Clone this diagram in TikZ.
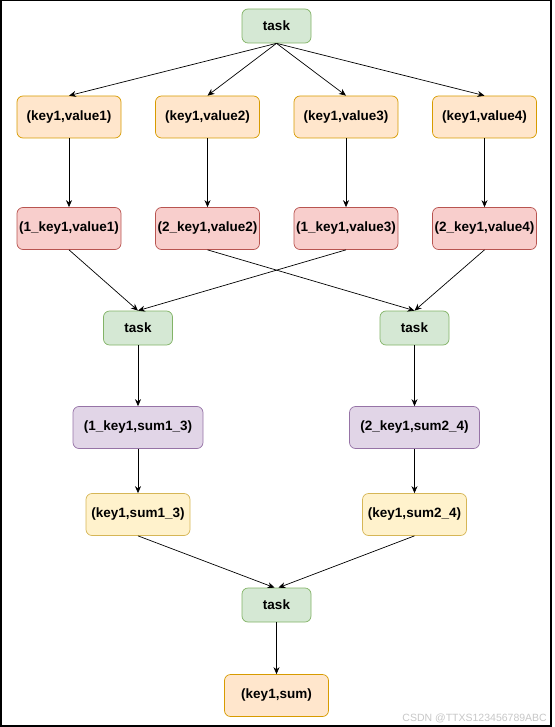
\documentclass[tikz,border=0pt]{standalone}
\usepackage{fontspec}
\setmainfont{Liberation Sans}
\usepackage{tikz}
\usetikzlibrary{arrows.meta}

\definecolor{taskfill}{HTML}{D5E8D4}
\definecolor{taskline}{HTML}{82B366}
\definecolor{pairfill}{HTML}{FFE6CC}
\definecolor{pairline}{HTML}{D79B00}
\definecolor{tagfill}{HTML}{F8CECC}
\definecolor{tagline}{HTML}{B85450}
\definecolor{sumfill}{HTML}{E1D5E7}
\definecolor{sumline}{HTML}{9673A6}
\definecolor{resfill}{HTML}{FFF2CC}
\definecolor{resline}{HTML}{D6B656}

\tikzset{
	box/.style={rounded corners=6pt, line width=0.7pt, inner sep=0pt,
		minimum height=42pt, font=\fontsize{13.5}{16}\selectfont\bfseries},
	taskbox/.style={box, draw=taskline, fill=taskfill, minimum width=69pt, minimum height=34pt},
	pairbox/.style={box, draw=pairline, fill=pairfill, minimum width=104pt},
	tagbox/.style={box, draw=tagline, fill=tagfill, minimum width=104pt},
	sumbox/.style={box, draw=sumline, fill=sumfill, minimum width=130pt},
	resbox/.style={box, draw=resline, fill=resfill, minimum width=104pt},
	link/.style={-{Stealth[length=7pt,width=6pt]}, line width=0.7pt},
}

\begin{document}
\begin{tikzpicture}[x=1pt, y=-1pt]

% frame %{{{2

	\useasboundingbox (0,0) rectangle (554,727);
	\draw[line width=1.5pt] (0.75,0.75) rectangle (551,726);

% top task %{{{2

	\node[taskbox] (T) at (276.5,26) {task};

% map rows %{{{2

	\node[pairbox] (P1) at (69,117) {(key1,value1)};
	\node[pairbox] (P2) at (207.5,117) {(key1,value2)};
	\node[pairbox] (P3) at (346,117) {(key1,value3)};
	\node[pairbox] (P4) at (484.5,117) {(key1,value4)};

	\node[tagbox] (Q1) at (69,228.5) {(1\_key1,value1)};
	\node[tagbox] (Q2) at (207.5,228.5) {(2\_key1,value2)};
	\node[tagbox] (Q3) at (346,228.5) {(1\_key1,value3)};
	\node[tagbox] (Q4) at (484.5,228.5) {(2\_key1,value4)};

% reduce tasks %{{{2

	\node[taskbox] (TA) at (138,328) {task};
	\node[taskbox] (TB) at (414.5,328) {task};

	\node[sumbox] (SA) at (138,427.5) {(1\_key1,sum1\_3)};
	\node[sumbox] (SB) at (414.5,427.5) {(2\_key1,sum2\_4)};

	\node[resbox] (RA) at (138,514.5) {(key1,sum1\_3)};
	\node[resbox] (RB) at (414.5,514.5) {(key1,sum2\_4)};

% final task %{{{2

	\node[taskbox] (TC) at (276.5,605) {task};
	\node[pairbox] (F) at (276.5,695.5) {(key1,sum)};

% arrows %{{{2

	\foreach \i in {1,...,4} {
		\draw[link] (T.south) -- (P\i.north);
		\draw[link] (P\i.south) -- (Q\i.north);
	}
	\draw[link] (Q1.south) -- (TA.north);
	\draw[link] (Q3.south) -- (TA.north);
	\draw[link] (Q2.south) -- (TB.north);
	\draw[link] (Q4.south) -- (TB.north);

	\draw[link] (TA.south) -- (SA.north);
	\draw[link] (TB.south) -- (SB.north);
	\draw[link] (SA.south) -- (RA.north);
	\draw[link] (SB.south) -- (RB.north);

	\draw[link] (RA.south) -- ([xshift=-2pt]TC.north);
	\draw[link] (RB.south) -- ([xshift=2pt]TC.north);
	\draw[link] (TC.south) -- (F.north);

% watermark %{{{2

	\node[anchor=base east, inner sep=0pt, text=black!22,
		font=\fontsize{10.5}{12}\selectfont] (W) at (547,721) {CSDN @TTXS123456789ABC};

% closing %{{{2

\end{tikzpicture}
\end{document}
